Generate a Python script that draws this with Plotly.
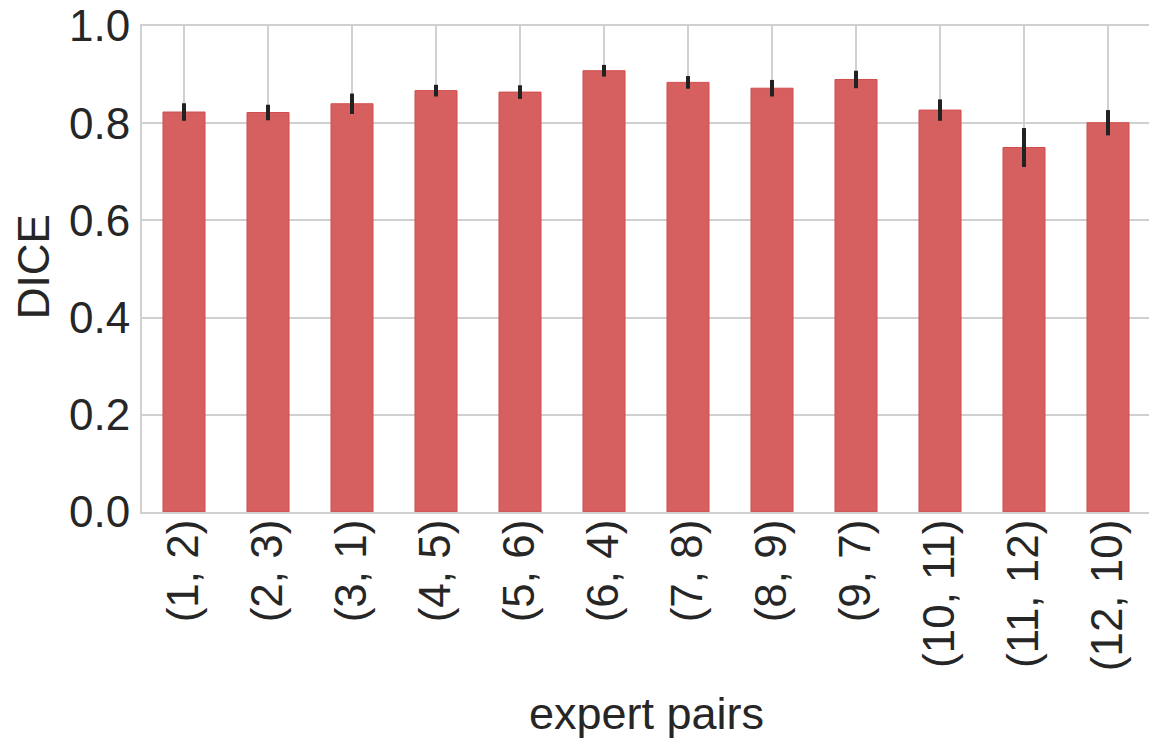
import plotly.graph_objects as go

pairs = ["(1, 2)", "(2, 3)", "(3, 1)", "(4, 5)", "(5, 6)", "(6, 4)",
         "(7, 8)", "(8, 9)", "(9, 7)", "(10, 11)", "(11, 12)", "(12, 10)"]
dice = [0.823, 0.822, 0.840, 0.867, 0.864, 0.908,
        0.884, 0.872, 0.890, 0.827, 0.750, 0.801]
dice_err = [0.018, 0.016, 0.021, 0.012, 0.014, 0.012,
            0.013, 0.017, 0.018, 0.022, 0.040, 0.026]
y_ticks = [0.0, 0.2, 0.4, 0.6, 0.8, 1.0]

FONT = "Liberation Sans, Arial, sans-serif"
TXT = "#262626"

fig = go.Figure(go.Bar(
    x=pairs, y=dice, width=0.5,
    marker=dict(color="#d65f5f", line=dict(color="#d24c4c", width=1)),
    error_y=dict(type="data", array=dice_err, visible=True,
                 color="#222222", thickness=4, width=0),
))

fig.update_layout(
    width=1149, height=733,
    margin=dict(l=134, r=7, t=18, b=229),
    paper_bgcolor="white", plot_bgcolor="white",
    font=dict(family=FONT, size=44, color=TXT),
    showlegend=False,
    annotations=[
        dict(text="expert pairs", xref="paper", yref="paper", x=0.5, y=-0.4156,
             xanchor="center", yanchor="middle", showarrow=False,
             font=dict(size=45, color=TXT)),
        dict(text="DICE", xref="paper", yref="paper", x=-0.108, y=0.504,
             xanchor="center", yanchor="middle", showarrow=False, textangle=-90,
             font=dict(size=44, color=TXT)),
    ],
)
fig.update_xaxes(
    type="category", range=[-0.5, 11.5], automargin=False,
    tickangle=-90, tickfont=dict(size=44, color=TXT),
    showgrid=True, gridcolor="#d0d0d0", gridwidth=2,
    showline=True, linecolor="#d0d0d0", linewidth=2, mirror=True,
    ticks="", ticklabelstandoff=-12, ticklabeloverflow="allow",
)
fig.update_yaxes(
    range=[0, 1.0], automargin=False,
    tickvals=y_ticks, ticktext=[f"{v:.1f}" for v in y_ticks],
    tickfont=dict(size=44, color=TXT),
    showgrid=True, gridcolor="#d0d0d0", gridwidth=2, zeroline=False,
    showline=True, linecolor="#d0d0d0", linewidth=2, mirror=True,
    ticks="outside", ticklen=1, tickcolor="rgba(0,0,0,0)",
    ticklabeloverflow="allow",
)

fig.write_html("out.html")
